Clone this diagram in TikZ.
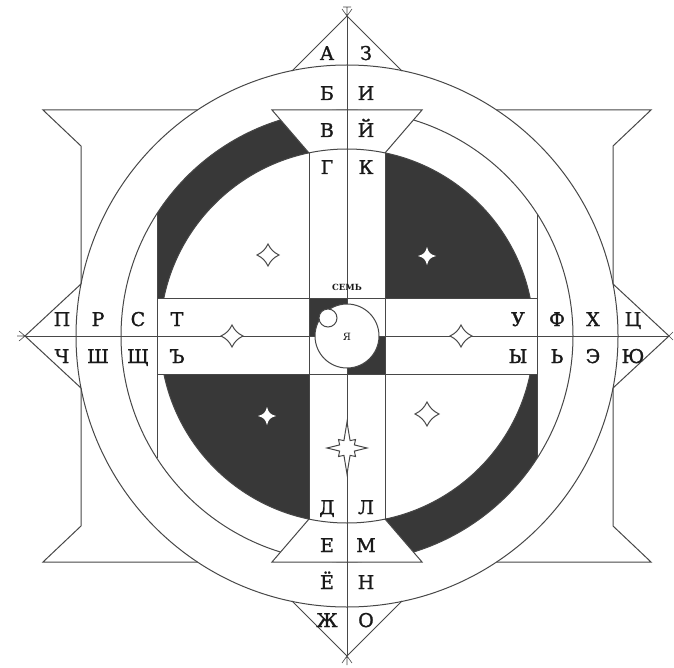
\documentclass[tikz,border=0pt]{standalone}
\usepackage{fontspec}
\setmainfont{DejaVu Serif}
\newfontfamily\letterfont[FakeBold=1.3]{DejaVu Serif}
\definecolor{ink}{gray}{0.28}
\definecolor{darkfill}{gray}{0.22}
\definecolor{txt}{gray}{0.1}
\newcommand\fourstar[5]{%
  \begin{scope}[shift={(#1,#2)}]
    \path[#4] (0,-#3) .. controls (#5*0.5*#3,-#5*#3) and (#5*#3,-#5*0.5*#3) .. (#3,0)
      .. controls (#5*#3,#5*0.5*#3) and (#5*0.5*#3,#5*#3) .. (0,#3)
      .. controls (-#5*0.5*#3,#5*#3) and (-#5*#3,#5*0.5*#3) .. (-#3,0)
      .. controls (-#5*#3,-#5*0.5*#3) and (-#5*0.5*#3,-#5*#3) .. (0,-#3) -- cycle;
  \end{scope}}
\begin{document}
\begin{tikzpicture}[x=1pt,y=-1pt,
  line/.style={draw=ink,line width=1pt},
  ray/.style={draw=ink,line width=0.6pt},
  letter/.style={text=txt,font=\letterfont\fontsize{19}{19}\selectfont,inner sep=0pt,anchor=base},
  hollow/.style={draw=ink,fill=white,line width=1pt},
  bright/.style={fill=white}]
\useasboundingbox (0,0) rectangle (674,668);
\fill[white] (0,0) rectangle (674,668);
\coordinate (C) at (347,336);

% dark regions
\begin{scope}\clip (385,0) rectangle (674,298); \fill[darkfill] (C) circle[radius=187]; \end{scope}
\begin{scope}\clip (0,374) rectangle (309,668); \fill[darkfill] (C) circle[radius=187]; \end{scope}
\begin{scope}\clip (157,0) rectangle (309,298); \fill[darkfill,even odd rule] (C) circle[radius=226] (C) circle[radius=187]; \end{scope}
\begin{scope}\clip (385,374) rectangle (537,668); \fill[darkfill,even odd rule] (C) circle[radius=226] (C) circle[radius=187]; \end{scope}
\fill[darkfill] (309,298) rectangle (347,336);
\fill[darkfill] (347,336) rectangle (385,374);

% circles
\draw[line] (C) circle[radius=271];
\draw[line] (C) circle[radius=226];

% trapezoids (white fill)
\fill[white] (272,110) -- (422,110) -- (385,153) -- (309,153) -- cycle;
\fill[white] (272,562) -- (422,562) -- (385,519) -- (309,519) -- cycle;

\begin{scope}
  \clip (0,0) rectangle (674,298) (0,374) rectangle (674,668);
  \draw[line] (C) circle[radius=187];
\end{scope}

\draw[line] (309,153) -- (272,110) -- (422,110) -- (385,153);
\draw[line] (309,519) -- (272,562) -- (422,562) -- (385,519);

% chords and bars
\draw[line] (157,214) -- (157,458);
\draw[line] (537,214) -- (537,458);
\draw[line] (309,153) -- (309,519);
\draw[line] (385,153) -- (385,519);
\draw[line] (157,298) -- (537,298);
\draw[line] (157,374) -- (537,374);

% axes
\draw[line] (347,16) -- (347,656);
\draw[line] (25,336) -- (669,336);

% triangles
\draw[line] (292,71) -- (347,16) -- (402,71);
\draw[line] (292,601) -- (347,656) -- (402,601);
\draw[line] (81,284) -- (25,336) -- (81,388);
\draw[line] (613,284) -- (669,336) -- (613,388);

% side shapes
\draw[line] (197.5,110) -- (43,110) -- (81,146) -- (81,284);
\draw[line] (81,388) -- (81,526) -- (43,562) -- (197.5,562);
\draw[line] (496.5,110) -- (651,110) -- (613,146) -- (613,284);
\draw[line] (613,388) -- (613,526) -- (651,562) -- (496.5,562);

% apex rays
\draw[ray] (347,16) -- (342,9) (347,16) -- (347,7) (347,16) -- (352,9) (343,7) -- (351,7);
\draw[ray] (347,656) -- (342,663) (347,656) -- (347,665) (347,656) -- (352,663);
\draw[ray] (25,336) -- (19,331) (25,336) -- (17,336) (25,336) -- (19,341);
\draw[ray] (669,336) -- (673,332) (669,336) -- (673,340);

% centre
\draw[line,fill=white] (C) circle[radius=32];
\draw[line,fill=white] (328,318) circle[radius=9];
\node[text=txt,font=\bfseries\fontsize{8.5}{8.5}\selectfont,inner sep=0pt] (semь) at (347,287) {СЕМЬ};
\node[text=txt,font=\fontsize{10}{10}\selectfont,inner sep=0pt] (ya) at (347,337) {Я};

% stars
\fourstar{268}{255}{11}{hollow}{0.5}
\fourstar{427}{256}{9}{bright}{0.36}
\fourstar{232}{336}{11}{hollow}{0.5}
\fourstar{461}{336}{11}{hollow}{0.5}
\fourstar{267}{416}{9}{bright}{0.36}
\fourstar{427}{414}{12}{hollow}{0.5}
\begin{scope}[shift={(347,448)}]
  \path[hollow] (0:20) -- (22.5:8) -- (45:12) -- (67.5:8) -- (90:26) -- (112.5:8) -- (135:12)
    -- (157.5:8) -- (180:20) -- (202.5:8) -- (225:12) -- (247.5:8) -- (270:26)
    -- (292.5:8) -- (315:12) -- (337.5:8) -- cycle;
\end{scope}

% letters: top arm
\node[letter] (tA) at (327,60) {А};
\node[letter] (tZ) at (366,60) {З};
\node[letter] (tB) at (327,100) {Б};
\node[letter] (tI) at (366,100) {И};
\node[letter] (tV) at (327,137) {В};
\node[letter] (tJ) at (366,137) {Й};
\node[letter] (tG) at (327,174) {Г};
\node[letter] (tK) at (366,174) {К};
% bottom arm
\node[letter] (bD) at (327,514) {Д};
\node[letter] (bL) at (366,514) {Л};
\node[letter] (bE) at (327,552) {Е};
\node[letter] (bM) at (366,552) {М};
\node[letter] (bYo) at (327,589) {Ё};
\node[letter] (bN) at (366,589) {Н};
\node[letter] (bZh) at (327,627) {Ж};
\node[letter] (bO) at (366,627) {О};
% left arm
\node[letter] (lP) at (62,326) {П};
\node[letter] (lR) at (98,326) {Р};
\node[letter] (lS) at (138,326) {С};
\node[letter] (lT) at (177,326) {Т};
\node[letter] (lCh) at (62,363) {Ч};
\node[letter] (lSh) at (98,363) {Ш};
\node[letter] (lShch) at (138,363) {Щ};
\node[letter] (lHard) at (177,363) {Ъ};
% right arm
\node[letter] (rU) at (518,326) {У};
\node[letter] (rF) at (557,326) {Ф};
\node[letter] (rKh) at (593,326) {Х};
\node[letter] (rTs) at (633,326) {Ц};
\node[letter] (rY) at (518,363) {Ы};
\node[letter] (rSoft) at (557,363) {Ь};
\node[letter] (rE) at (593,363) {Э};
\node[letter] (rYu) at (633,363) {Ю};
\end{tikzpicture}
\end{document}
